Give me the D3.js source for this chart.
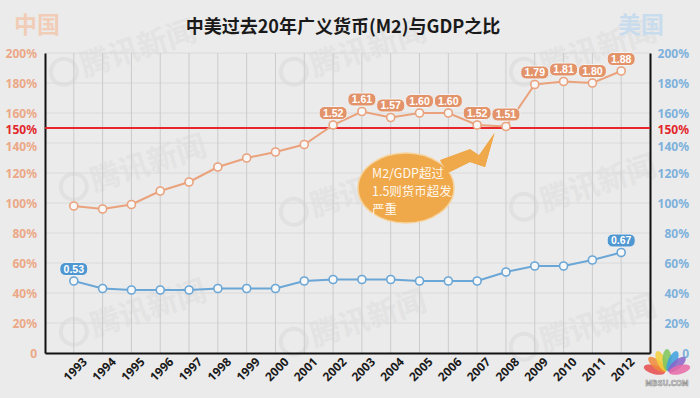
<!DOCTYPE html>
<html>
<head>
<meta charset="utf-8">
<script src="https://cdn.jsdelivr.net/npm/d3@7"></script>
<style>
  html, body { margin: 0; padding: 0; background: #ebebeb; }
  svg { display: block; font-family: "Noto Sans CJK SC", "Noto Sans", sans-serif; }
</style>
</head>
<body>
<div id="chart"></div>
<script>
// DATA
const years = [1993, 1994, 1995, 1996, 1997, 1998, 1999, 2000, 2001, 2002,
  2003, 2004, 2005, 2006, 2007, 2008, 2009, 2010, 2011, 2012];
const chinaRatio = [0.98, 0.96, 0.99, 1.08, 1.14, 1.24, 1.30, 1.34, 1.39, 1.52,
  1.61, 1.57, 1.60, 1.60, 1.52, 1.51, 1.79, 1.81, 1.80, 1.88];
const usRatio = [0.48, 0.43, 0.42, 0.42, 0.42, 0.43, 0.43, 0.43, 0.48, 0.49,
  0.49, 0.49, 0.48, 0.48, 0.48, 0.54, 0.58, 0.58, 0.62, 0.67];
const chinaLabels = ["", "", "", "", "", "", "", "", "", "1.52",
  "1.61", "1.57", "1.60", "1.60", "1.52", "1.51", "1.79", "1.81", "1.80", "1.88"];
const usLabels = ["0.53", "", "", "", "", "", "", "", "", "",
  "", "", "", "", "", "", "", "", "", "0.67"];
const tickValues = [0, 0.2, 0.4, 0.6, 0.8, 1.0, 1.2, 1.4, 1.6, 1.8, 2.0];
const threshold = 1.5;
const title = "中美过去20年广义货币(M2)与GDP之比";
const calloutLines = ["M2/GDP超过", "1.5则货币超发", "严重"];

const width = 700;
const height = 398;
const plotLeft = 45, plotRight = 650, plotTop = 53, plotBottom = 353;

const orange = "#eaa27c";
const orangeDark = "#e3936a";
const blue = "#6aa6d6";
const blueDark = "#4f97d1";

const svg = d3.select("#chart")
  .append("svg")
  .attr("width", width)
  .attr("height", height)
  .attr("viewBox", `0 0 ${width} ${height}`);

svg.append("rect").attr("width", width).attr("height", height).attr("fill", "#ebebeb");

// SCALES
const x = d3.scalePoint().domain(years).range([plotLeft, plotRight]).padding(1);
const y = d3.scaleLinear().domain([0, 2]).range([plotBottom, plotTop]);

// WATERMARKS
const wm = svg.append("g").attr("pointer-events", "none");
[[100, 60], [330, 60], [560, 60], [110, 175], [330, 200], [560, 195], [110, 320], [330, 330], [560, 335]]
  .forEach(([cx, cy]) => {
    const g = wm.append("g").attr("transform", `translate(${cx},${cy}) rotate(-18)`);
    g.append("circle").attr("cx", -38).attr("cy", 0).attr("r", 13)
      .attr("fill", "none").attr("stroke", "#e1e1e1").attr("stroke-width", 4);
    g.append("text").attr("x", -20).attr("y", 11).attr("font-size", 30)
      .attr("font-weight", "bold").attr("fill", "#e3e3e3").text("腾讯新闻");
  });
svg.append("text").attr("x", 14).attr("y", 33).attr("font-size", 23).attr("font-weight", "bold")
  .attr("fill", "#f1cdb8").text("中国");
svg.append("text").attr("x", 618).attr("y", 33).attr("font-size", 23).attr("font-weight", "bold")
  .attr("fill", "#c9dced").text("美国");

// GRID
svg.append("g")
  .selectAll("line")
  .data(tickValues.slice(1))
  .join("line")
  .attr("x1", plotLeft).attr("x2", plotRight)
  .attr("y1", (d) => y(d)).attr("y2", (d) => y(d))
  .attr("stroke", "#dadada").attr("stroke-width", 1);
svg.append("g")
  .selectAll("line")
  .data(years)
  .join("line")
  .attr("x1", (d) => x(d)).attr("x2", (d) => x(d))
  .attr("y1", plotTop).attr("y2", plotBottom)
  .attr("stroke", "#cbcbcb").attr("stroke-width", 1);

// AXES
const yLeft = d3.axisLeft(y).tickValues(tickValues.concat([threshold])).tickSize(0).tickPadding(8)
  .tickFormat((d) => (d === 0 ? "0" : `${Math.round(d * 100)}%`));
const yRight = d3.axisRight(y).tickValues(tickValues.concat([threshold])).tickSize(0).tickPadding(8)
  .tickFormat((d) => (d === 0 ? "0" : `${Math.round(d * 100)}%`));
const xAxis = d3.axisBottom(x).tickSize(0).tickPadding(8);

const gl = svg.append("g").attr("transform", `translate(${plotLeft},0)`).call(yLeft);
gl.selectAll("text").attr("x", -8).attr("dy", "0.35em");
const gr = svg.append("g").attr("transform", `translate(${plotRight},0)`).call(yRight);
gr.selectAll("text").attr("text-anchor", "end").attr("x", 39).attr("dy", "0.35em");
[gl, gr].forEach((g, i) => {
  g.select(".domain").attr("stroke", "#111").attr("stroke-width", 2);
  g.selectAll("text")
    .attr("font-size", 12)
    .attr("font-weight", "bold")
    .attr("font-family", "\"Noto Sans\", sans-serif")
    .attr("fill", (d) => (d === threshold ? "#e3262b" : i === 0 ? "#eba886" : "#7db1dc"))
    .attr("transform", (d) => (d === 1.4 ? "translate(0,3)" : d === threshold ? "translate(0,1.5)" : null));
});

const gx = svg.append("g").attr("transform", `translate(0,${plotBottom})`).call(xAxis);
gx.select(".domain").attr("stroke", "#111").attr("stroke-width", 2);
gx.selectAll("text")
  .attr("font-size", 12)
  .attr("font-weight", "bold")
  .attr("font-family", "\"Noto Sans\", sans-serif")
  .attr("fill", "#1a1a1a")
  .attr("text-anchor", "end")
  .attr("dy", 0)
  .attr("transform", "translate(8,4) rotate(-45)");

// THRESHOLD LINE
svg.append("line")
  .attr("x1", plotLeft).attr("x2", plotRight)
  .attr("y1", y(threshold)).attr("y2", y(threshold))
  .attr("stroke", "#e8262b").attr("stroke-width", 2);

// CALLOUT
const tipX = (x(2007) + x(2008)) / 2 + 3;
const callout = svg.append("g");
callout.append("path")
  .attr("d", `M440,160 L470,149 L479,155 L${tipX},${y(threshold) + 5} L485,167 L470,162 L446,174 Z`)
  .attr("fill", "#efa84a");
callout.append("ellipse")
  .attr("cx", 406).attr("cy", 188).attr("rx", 48).attr("ry", 35)
  .attr("fill", "#efa84a").attr("stroke", "#f6d39c").attr("stroke-width", 1.5);
callout.append("path")
  .attr("d", `M441,161 L470,150 L479,156 L${tipX},${y(threshold) + 5} L485,167 L470,162 L447,173`)
  .attr("fill", "#efa84a");
callout.selectAll("text")
  .data(calloutLines)
  .join("text")
  .attr("x", 372)
  .attr("y", (d, i) => 178 + i * 18)
  .attr("font-size", 12.5)
  .attr("fill", "#fff8ee")
  .text((d) => d);

// SERIES
const line = d3.line().x((d, i) => x(years[i])).y((d) => y(d));
const series = [
  { values: chinaRatio, labels: chinaLabels, color: orange, dark: orangeDark },
  { values: usRatio, labels: usLabels, color: blue, dark: blueDark },
];
series.forEach((s) => {
  svg.append("path")
    .datum(s.values)
    .attr("d", line)
    .attr("fill", "none")
    .attr("stroke", s.color)
    .attr("stroke-width", 2);
  svg.append("g")
    .selectAll("circle")
    .data(s.values)
    .join("circle")
    .attr("cx", (d, i) => x(years[i]))
    .attr("cy", (d) => y(d))
    .attr("r", 4)
    .attr("fill", "#f7f7f7")
    .attr("stroke", s.color)
    .attr("stroke-width", 1.6);
  const lbl = svg.append("g")
    .selectAll("g")
    .data(s.values.map((v, i) => ({ v, i, t: s.labels[i] })).filter((d) => d.t))
    .join("g")
    .attr("transform", (d) => `translate(${x(years[d.i])},${y(d.v) - 12})`);
  lbl.append("rect")
    .attr("x", -14).attr("y", -6.5).attr("width", 28).attr("height", 13).attr("rx", 5.5)
    .attr("fill", s.dark).attr("stroke", "#f3f3f3").attr("stroke-width", 1);
  lbl.append("text")
    .attr("text-anchor", "middle")
    .attr("dy", "0.36em")
    .attr("font-size", 10.5)
    .attr("font-weight", "bold")
    .attr("font-family", "\"Liberation Sans\", sans-serif")
    .attr("fill", "#ffffff")
    .text((d) => d.t);
});

// TITLE
svg.append("text")
  .attr("x", 343).attr("y", 33)
  .attr("text-anchor", "middle")
  .attr("font-size", 18)
  .attr("font-weight", "bold")
  .attr("fill", "#1a1a1a")
  .text(title);

// SITE LOGO
const logo = svg.append("g").attr("transform", "translate(667,373)");
["#e84c4c", "#f08a3a", "#f3cf3a", "#7cc45a", "#3ea0de", "#8a63c9", "#e86aa8"].forEach((c, i) => {
  const a = -165 + i * 25;
  logo.append("ellipse")
    .attr("cx", 0).attr("cy", -13).attr("rx", 4.5).attr("ry", 11)
    .attr("fill", c).attr("opacity", 0.85)
    .attr("transform", `rotate(${a + 90})`);
});
logo.append("text").attr("x", 0).attr("y", 13).attr("text-anchor", "middle")
  .attr("font-size", 8).attr("font-weight", "bold").attr("fill", "#fff")
  .attr("stroke", "#888").attr("stroke-width", 0.6).text("MBSU.COM");
</script>
</body>
</html>
